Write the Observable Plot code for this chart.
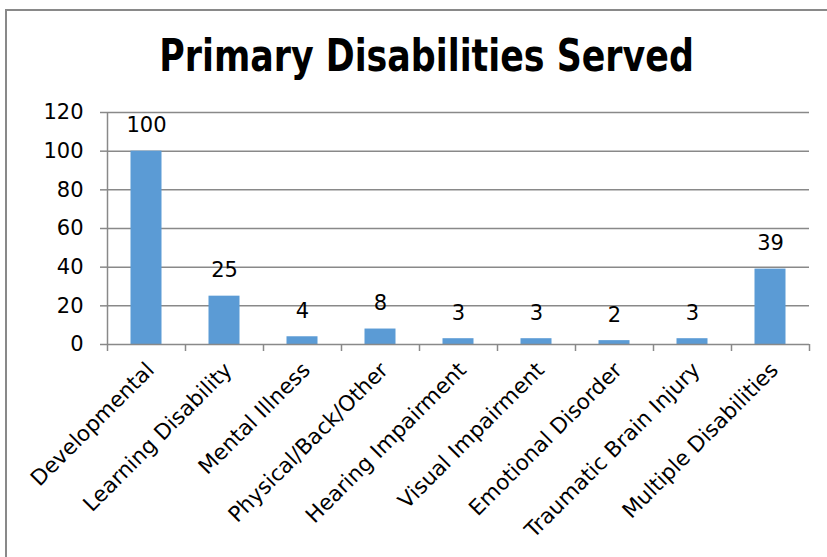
<!DOCTYPE html>
<html>
<head>
<meta charset="utf-8">
<script src="https://cdn.jsdelivr.net/npm/d3@7"></script>
<script src="https://cdn.jsdelivr.net/npm/@observablehq/plot@0.6"></script>
<style>
  html, body { margin: 0; padding: 0; background: #fff; width: 827px; height: 557px; overflow: hidden; }
  #box { position: absolute; left: 5px; top: 9px; width: 842px; height: 600px; border: 2px solid #898989; box-sizing: border-box; }
  #title { position: absolute; left: 0; top: 30px; width: 853px; text-align: center; font-family: "DejaVu Sans Condensed", "DejaVu Sans", sans-serif; font-weight: bold; font-size: 44px; line-height: 52px; color: #000; white-space: nowrap; transform: scaleX(0.88); transform-origin: 427px 0; }
  #chart { position: absolute; left: 0; top: 0; }
</style>
</head>
<body>
<div id="box"></div>
<div id="title">Primary Disabilities Served</div>
<div id="chart"></div>
<script>
const categories = ["Developmental", "Learning Disability", "Mental Illness", "Physical/Back/Other", "Hearing Impairment", "Visual Impairment", "Emotional Disorder", "Traumatic Brain Injury", "Multiple Disabilities"];
const values = [100, 25, 4, 8, 3, 3, 2, 3, 39];
const yTicks = [0, 20, 40, 60, 80, 100, 120];

const data = categories.map((c, i) => ({category: c, value: values[i], index: i}));
const font = "'DejaVu Sans', sans-serif";
const grey = "#898989";

const chart = Plot.plot({
  width: 827,
  height: 557,
  marginLeft: 107,
  marginRight: 18,
  marginTop: 112,
  marginBottom: 213,
  style: {fontFamily: font, background: "transparent", color: "#000"},
  x: {domain: [0, categories.length], axis: null},
  y: {domain: [0, 120], axis: null},
  marks: [
    Plot.gridY(yTicks.filter(t => t > 0), {stroke: grey, strokeOpacity: 1, strokeWidth: 1.5}),
    Plot.axisY({ticks: yTicks, tickSize: 7, tickPadding: 17, fontSize: 21, stroke: grey, strokeWidth: 1.5, fill: "#000", label: null}),
    Plot.axisX({ticks: d3.range(categories.length + 1), tickFormat: () => "", tickSize: 7, stroke: grey, strokeWidth: 1.5, label: null}),
    Plot.ruleX([0], {stroke: grey, strokeWidth: 1.5}),
    Plot.rectY(data, {x1: d => d.index, x2: d => d.index + 1, y: "value", insetLeft: 23.5, insetRight: 23.5, fill: "#5B9BD5"}),
    Plot.ruleY([0], {stroke: grey, strokeWidth: 1.5}),
    Plot.text(data, {x: d => d.index + 0.5, y: "value", text: d => String(d.value), lineAnchor: "bottom", dy: -19, fontSize: 21, fill: "#000"}),
    Plot.text(data, {x: d => d.index + 0.5, y: 0, text: "category", rotate: -45, textAnchor: "end", dx: 4, dy: 22, fontSize: 21.5, fill: "#000"})
  ]
});
document.getElementById("chart").appendChild(chart);
</script>
</body>
</html>
